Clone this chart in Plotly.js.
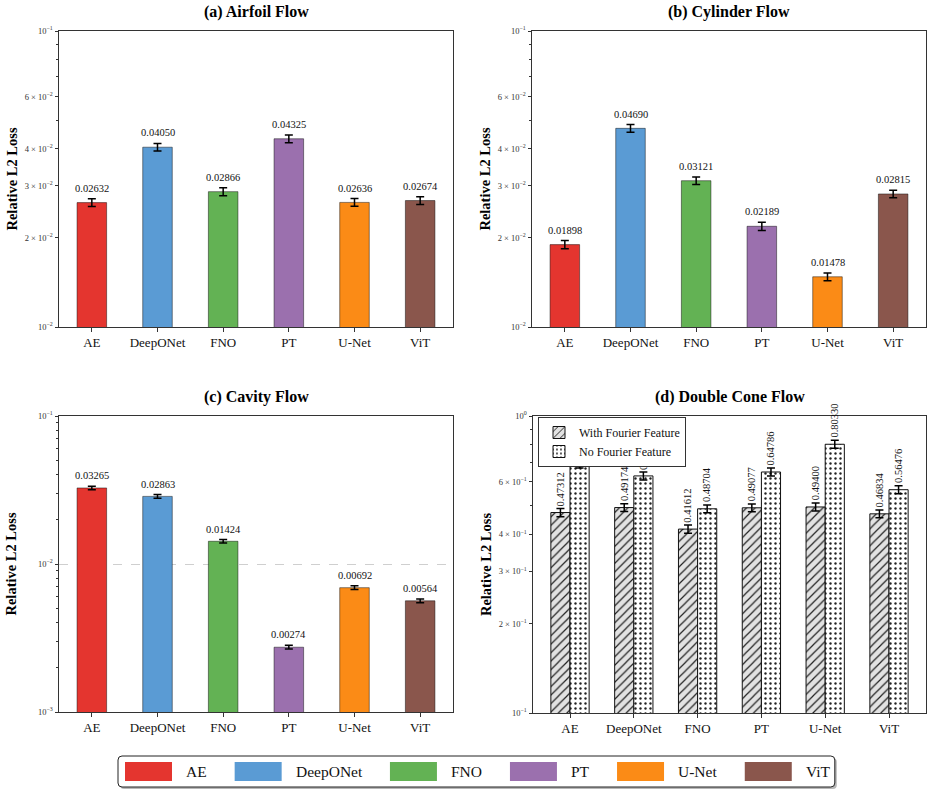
<!DOCTYPE html>
<html>
<head>
<meta charset="utf-8">
<script src="https://cdn.plot.ly/plotly-3.0.1.min.js"></script>
<style>html,body{margin:0;padding:0;background:#fff}</style>
</head>
<body>
<div id="chart" style="width:933px;height:794px"></div>
<script>
// ---- data ----
const models = ['AE', 'DeepONet', 'FNO', 'PT', 'U-Net', 'ViT'];
const modelColors = ['#e4352f', '#5a9bd4', '#63b254', '#9b70ae', '#fb8b16', '#8a564c'];

const airfoilLoss = [0.02632, 0.04050, 0.02866, 0.04325, 0.02636, 0.02674];
const airfoilErr  = [0.0008, 0.0012, 0.0009, 0.0013, 0.0008, 0.0008];

const cylinderLoss = [0.01898, 0.04690, 0.03121, 0.02189, 0.01478, 0.02815];
const cylinderErr  = [0.0006, 0.0014, 0.0009, 0.0007, 0.00045, 0.0008];

const cavityLoss = [0.03265, 0.02863, 0.01424, 0.00274, 0.00692, 0.00564];
const cavityErr  = [0.0009, 0.0008, 0.0004, 0.00008, 0.0002, 0.00016];

const coneWithFF    = [0.47312, 0.49174, 0.41612, 0.49077, 0.49400, 0.46834];
const coneWithFFErr = [0.015, 0.015, 0.013, 0.015, 0.015, 0.014];
const coneNoFF      = [0.68930, 0.62840, 0.48704, 0.64786, 0.80330, 0.56476];
const coneNoFFErr   = [0.021, 0.019, 0.015, 0.020, 0.025, 0.017];

// ---- page geometry helpers (pixels -> paper fractions) ----
const W = 933, H = 794;
const px = v => v / W;
const py = v => 1 - v / H;
const SERIF = "'Liberation Serif', 'Times New Roman', 'DejaVu Serif', serif";

const pow10 = e => '10<sup>' + (e < 0 ? '\u2212' + (-e) : e) + '</sup>';
const coef = (c, e) => c + ' \u00d7 ' + pow10(e);

function decadeAxis(lo, hi, labelled) {
  // major ticks at decades (+ optional labelled mantissas), minor ticks at the rest
  const vals = [], text = [], minor = [];
  for (let e = lo; e <= hi; e++) { vals.push(Math.pow(10, e)); text.push(pow10(e)); }
  for (let e = lo; e < hi; e++) {
    for (let m = 2; m <= 9; m++) {
      const v = m * Math.pow(10, e);
      if (labelled.includes(m)) { vals.push(v); text.push(coef(m, e)); }
      else minor.push(v);
    }
  }
  return {vals, text, minor};
}

const axisLine = {showline: true, mirror: true, linecolor: '#333', linewidth: 1, zeroline: false, fixedrange: true};

function makeX(dom, anchor, range) {
  return Object.assign({}, axisLine, {
    domain: [px(dom[0]), px(dom[1])], anchor, type: 'category', range,
    ticks: 'outside', ticklen: 3.5, tickcolor: '#333', showgrid: false,
    tickfont: {family: SERIF, size: 13, color: '#111'}
  });
}
function makeY(dom, anchor, lo, hi, labelled, standoff, grid) {
  const t = decadeAxis(lo, hi, labelled);
  return Object.assign({}, axisLine, {
    domain: [py(dom[1]), py(dom[0])], anchor, type: 'log', range: [lo, hi],
    tickmode: 'array', tickvals: t.vals, ticktext: t.text,
    ticks: 'outside', ticklen: 3.5, tickcolor: '#333',
    tickfont: {family: SERIF, size: 8.5, color: '#333'},
    minor: {tickmode: 'array', tickvals: t.minor, ticks: 'outside', ticklen: 2, tickcolor: '#333', showgrid: false},
    showgrid: !!grid, gridcolor: '#cfcfcf', griddash: 'dash', gridwidth: 1,
    title: {text: 'Relative L2 Loss', standoff, font: {family: SERIF, size: 14.5, weight: 'bold', color: '#000'}}
  });
}

// panel frames in pixels
const P = {
  a: {x: [59, 453], y: [31, 327]},
  b: {x: [532, 926], y: [31, 327]},
  c: {x: [59, 453], y: [416, 712]},
  d: {x: [533, 926], y: [416, 713]}
};

const errStyle = arr => ({type: 'data', array: arr, visible: true, color: '#000', thickness: 1.5, width: 4});
const barEdge = {color: 'rgba(0,0,0,0.45)', width: 1};

function modelBars(vals, errs, xa, ya) {
  return {
    type: 'bar', x: models, y: vals, xaxis: xa, yaxis: ya, width: 0.45,
    marker: {color: modelColors, line: barEdge},
    error_y: errStyle(errs), showlegend: false, hoverinfo: 'skip'
  };
}

const traces = [
  modelBars(airfoilLoss, airfoilErr, 'x', 'y'),
  modelBars(cylinderLoss, cylinderErr, 'x2', 'y2'),
  modelBars(cavityLoss, cavityErr, 'x3', 'y3'),
  {
    type: 'bar', name: 'With Fourier Feature', x: models, y: coneWithFF, xaxis: 'x4', yaxis: 'y4',
    width: 0.3, offset: -0.3,
    marker: {color: '#e2e2e2', line: {color: '#111', width: 1},
      pattern: {shape: '/', bgcolor: '#e2e2e2', fgcolor: '#222', size: 6, solidity: 0.2, fillmode: 'replace'}},
    error_y: errStyle(coneWithFFErr), hoverinfo: 'skip'
  },
  {
    type: 'bar', name: 'No Fourier Feature', x: models, y: coneNoFF, xaxis: 'x4', yaxis: 'y4',
    width: 0.3, offset: 0,
    marker: {color: '#ffffff', line: {color: '#111', width: 1},
      pattern: {shape: '.', bgcolor: '#ffffff', fgcolor: '#222', size: 5, solidity: 0.18, fillmode: 'replace'}},
    error_y: errStyle(coneNoFFErr), hoverinfo: 'skip'
  }
];

// value labels above the error bars
const annotations = [];
function valueLabels(xa, ya, vals, errs, shift, angle) {
  vals.forEach((v, i) => annotations.push({
    xref: xa, yref: ya, x: i + shift, y: Math.log10(v + errs[i]),
    text: v.toFixed(5), showarrow: false, xanchor: 'center', yanchor: 'bottom',
    yshift: angle ? 0.5 : 3, textangle: angle,
    font: {family: SERIF, size: 10.5, color: '#111'}
  }));
}
valueLabels('x', 'y', airfoilLoss, airfoilErr, 0, 0);
valueLabels('x2', 'y2', cylinderLoss, cylinderErr, 0, 0);
valueLabels('x3', 'y3', cavityLoss, cavityErr, 0, 0);
valueLabels('x4', 'y4', coneWithFF, coneWithFFErr, -0.15, -90);
valueLabels('x4', 'y4', coneNoFF, coneNoFFErr, 0.15, -90);

// panel titles
[['a', '(a) Airfoil Flow', 12], ['b', '(b) Cylinder Flow', 12],
 ['c', '(c) Cavity Flow', 397], ['d', '(d) Double Cone Flow', 397]].forEach(([k, t, yy]) => {
  annotations.push({
    xref: 'paper', yref: 'paper', x: px((P[k].x[0] + P[k].x[1]) / 2), y: py(yy),
    text: t, showarrow: false, xanchor: 'center', yanchor: 'middle',
    font: {family: SERIF, size: 16, weight: 'bold', color: '#000'}
  });
});

// shared model legend along the bottom
const shapes = [];
const legFont = 15.5;
const ctx = document.createElement('canvas').getContext('2d');
ctx.font = legFont + 'px "Liberation Serif"';
const handleW = 47, handleH = 19, handlePad = 12, colGap = 30;
const legTop = 756, legBot = 787, legMid = (legTop + legBot) / 2;
let cx = 125;
models.forEach((m, i) => {
  shapes.push({type: 'rect', xref: 'paper', yref: 'paper',
    x0: px(cx), x1: px(cx + handleW), y0: py(legMid + handleH / 2), y1: py(legMid - handleH / 2),
    fillcolor: modelColors[i], line: {width: 0}});
  annotations.push({xref: 'paper', yref: 'paper', x: px(cx + handleW + handlePad), y: py(legMid),
    text: m, showarrow: false, xanchor: 'left', yanchor: 'middle',
    font: {family: SERIF, size: legFont, color: '#111'}});
  cx += handleW + handlePad + ctx.measureText(m).width + colGap;
});
const legL = 118, legR = cx - colGap + 7;
function roundRect(x0, y0, x1, y1, r) {
  return 'M' + px(x0 + r) + ',' + py(y0) + ' L' + px(x1 - r) + ',' + py(y0) +
    ' Q' + px(x1) + ',' + py(y0) + ' ' + px(x1) + ',' + py(y0 + r) +
    ' L' + px(x1) + ',' + py(y1 - r) +
    ' Q' + px(x1) + ',' + py(y1) + ' ' + px(x1 - r) + ',' + py(y1) +
    ' L' + px(x0 + r) + ',' + py(y1) +
    ' Q' + px(x0) + ',' + py(y1) + ' ' + px(x0) + ',' + py(y1 - r) +
    ' L' + px(x0) + ',' + py(y0 + r) +
    ' Q' + px(x0) + ',' + py(y0) + ' ' + px(x0 + r) + ',' + py(y0) + ' Z';
}
shapes.unshift(
  {type: 'path', xref: 'paper', yref: 'paper', path: roundRect(legL + 2, legTop + 2, legR + 2, legBot + 2, 4),
   fillcolor: 'rgba(0,0,0,0.28)', line: {width: 0}},
  {type: 'path', xref: 'paper', yref: 'paper', path: roundRect(legL, legTop, legR, legBot, 4),
   fillcolor: '#ffffff', line: {color: '#222', width: 1}}
);

const layout = {
  width: W, height: H, margin: {l: 0, r: 0, t: 0, b: 0},
  paper_bgcolor: '#fff', plot_bgcolor: '#fff',
  font: {family: SERIF, color: '#111'},
  barmode: 'group', hovermode: false,
  xaxis: makeX(P.a.x, 'y', [-0.5, 5.5]),
  yaxis: makeY(P.a.y, 'x', -2, -1, [2, 3, 4, 6], 3),
  xaxis2: makeX(P.b.x, 'y2', [-0.5, 5.5]),
  yaxis2: makeY(P.b.y, 'x2', -2, -1, [2, 3, 4, 6], 3),
  xaxis3: makeX(P.c.x, 'y3', [-0.5, 5.5]),
  yaxis3: makeY(P.c.y, 'x3', -3, -1, [], 17, true),
  xaxis4: makeX(P.d.x, 'y4', [-0.58, 5.58]),
  yaxis4: makeY(P.d.y, 'x4', -1, 0, [2, 3, 4, 6], 3),
  legend: {
    x: px(538), y: py(417), xanchor: 'left', yanchor: 'top',
    bgcolor: '#ffffff', bordercolor: '#333', borderwidth: 1,
    font: {family: SERIF, size: 12, color: '#111'},
    tracegroupgap: 0, itemclick: false, itemdoubleclick: false
  },
  annotations, shapes
};

const gd = document.getElementById('chart');
Plotly.newPlot(gd, traces, layout, {staticPlot: true, displayModeBar: false}).then(() => {
  // keep the inset legend above the value labels it overlaps
  const info = gd.querySelector('.infolayer');
  const leg = info && info.querySelector('.legend');
  if (leg) info.appendChild(leg);
});
</script>
</body>
</html>
